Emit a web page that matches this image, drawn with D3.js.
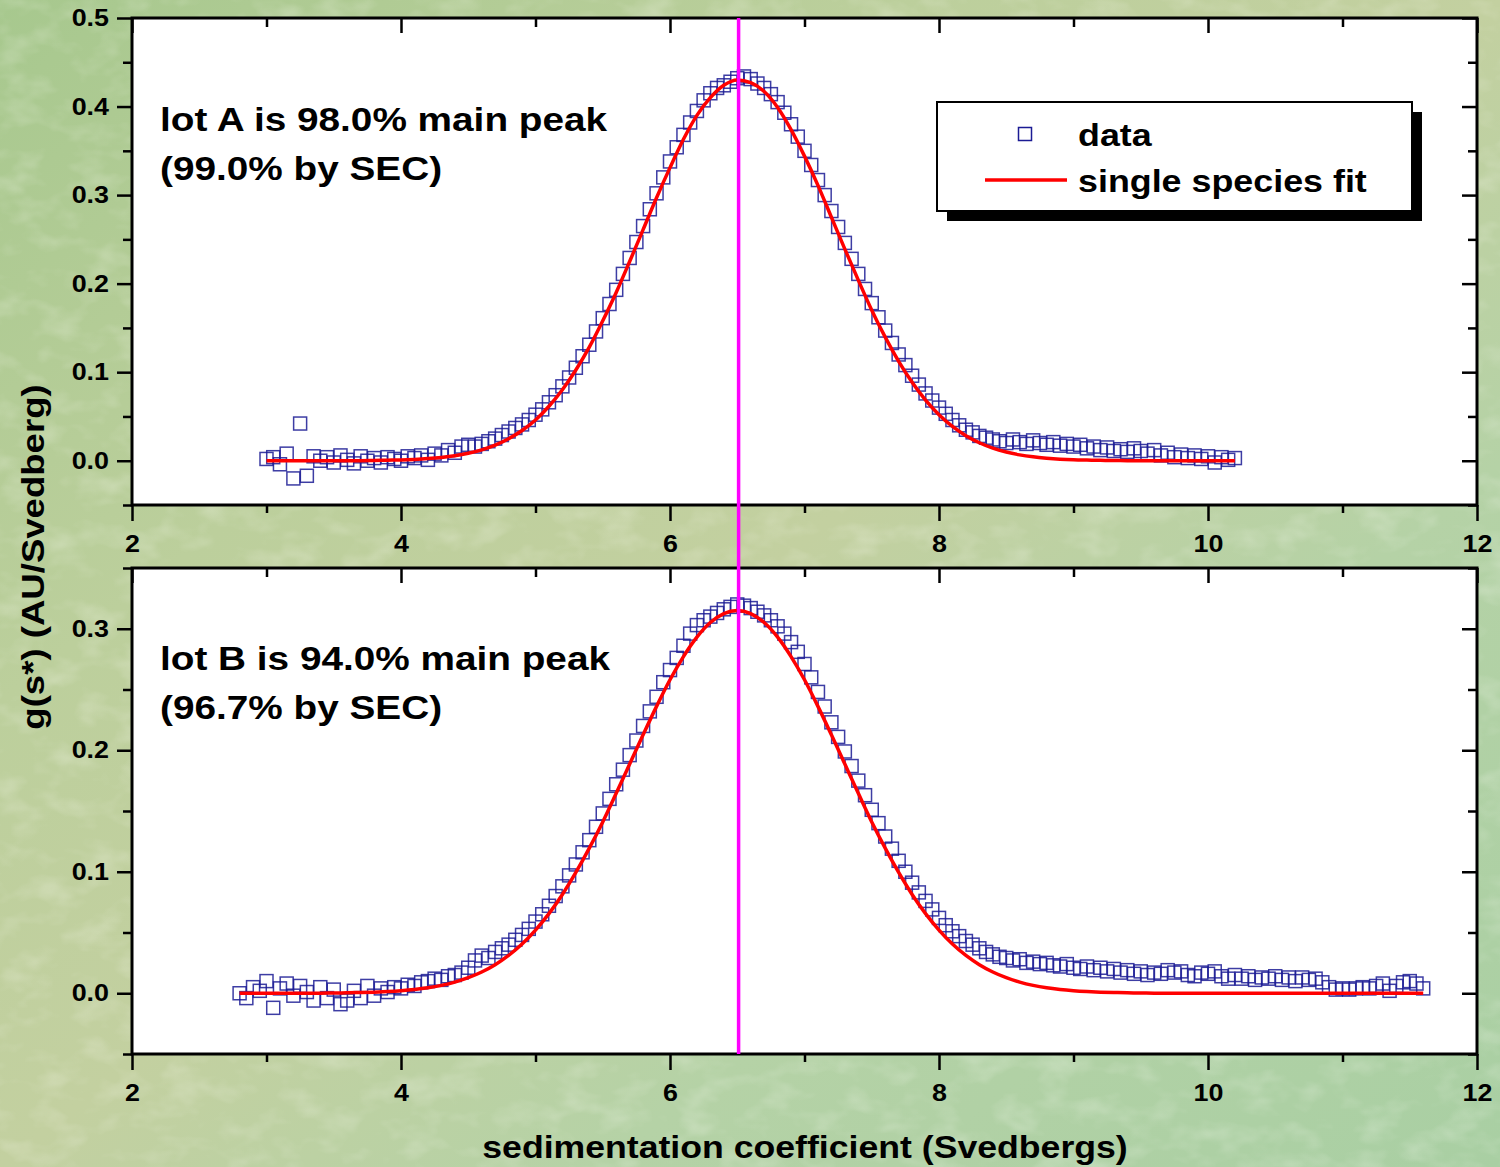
<!DOCTYPE html>
<html>
<head>
<meta charset="utf-8">
<script src="https://cdn.jsdelivr.net/npm/d3@7"></script>
<style>
  html, body { margin: 0; padding: 0; background: #b8cf9f; }
  svg { display: block; }
  text { font-family: "Liberation Sans", Arial, sans-serif; font-weight: bold; fill: #000; }
</style>
</head>
<body>
<svg id="chart" width="1500" height="1167"></svg>
<script>
// ---------------- DATA ----------------
// Lot A (top panel) measured g(s*) points, s from 3.00 to 10.20 in steps of 0.05
const lotAStart = 3.0, lotAStep = 0.05;
const lotAData = [
  0.002, 0.004, -0.004, 0.008, -0.020, 0.042, -0.017, 0.005, 0.000, 0.004,
  -0.002, 0.006, 0.001, -0.003, 0.005, 0.000, 0.003, -0.002, 0.004, 0.002,
  0.000, 0.005, 0.003, 0.006, 0.001, 0.008, 0.006, 0.012, 0.009, 0.016,
  0.018, 0.016, 0.019, 0.022, 0.025, 0.029, 0.033, 0.037, 0.041, 0.046,
  0.052, 0.058, 0.066, 0.074, 0.084, 0.094, 0.105, 0.118, 0.131, 0.146,
  0.161, 0.177, 0.193, 0.211, 0.229, 0.247, 0.265, 0.284, 0.302, 0.320,
  0.338, 0.354, 0.368, 0.382, 0.395, 0.407, 0.415, 0.421, 0.424, 0.428,
  0.432, 0.434, 0.431, 0.426, 0.421, 0.414, 0.405, 0.393, 0.380, 0.366,
  0.350, 0.334, 0.317, 0.300, 0.282, 0.264, 0.246, 0.228, 0.211, 0.194,
  0.178, 0.162, 0.147, 0.133, 0.120, 0.108, 0.096, 0.086, 0.076, 0.068,
  0.060, 0.053, 0.046, 0.040, 0.035, 0.032, 0.028, 0.026, 0.024, 0.022,
  0.020, 0.024, 0.021, 0.019, 0.023, 0.020, 0.018, 0.021, 0.017, 0.019,
  0.016, 0.018, 0.014, 0.016, 0.012, 0.015, 0.011, 0.013, 0.010, 0.014,
  0.011, 0.008, 0.012, 0.006, 0.009, 0.004, 0.007, 0.003, 0.006, 0.002,
  0.005, -0.002, 0.004, 0.001, 0.003
];
// Lot A single species fit, s from 3.0 to 10.2 in steps of 0.1
const lotAFitStart = 3.0, lotAFitStep = 0.1;
const lotAFit = [
  0, 0, 0, 0, 0, 0.0001, 0.0001, 0.0001, 0.0003, 0.0006,
  0.0009, 0.0015, 0.0024, 0.0037, 0.0056, 0.0084, 0.0123, 0.0176, 0.0248, 0.0342,
  0.046, 0.0615, 0.0801, 0.1024, 0.1282, 0.158, 0.190, 0.225, 0.261, 0.297,
  0.331, 0.363, 0.390, 0.410, 0.424, 0.430, 0.427, 0.417, 0.399, 0.374,
  0.344, 0.311, 0.275, 0.239, 0.204, 0.170, 0.1396, 0.1123, 0.0886, 0.0685,
  0.052, 0.0387, 0.0283, 0.0203, 0.0142, 0.0098, 0.0066, 0.0044, 0.0029, 0.0018,
  0.0011, 0.0007, 0.0004, 0.0002, 0.0001, 0, 0, 0, 0, 0,
  0, 0, 0
];
// Lot B (bottom panel) measured points, s from 2.80 to 11.60 in steps of 0.05
const lotBStart = 2.8, lotBStep = 0.05;
const lotBData = [
  0.000, -0.004, 0.005, 0.002, 0.010, -0.012, 0.004, 0.008, -0.002, 0.006,
  0.001, -0.006, 0.005, -0.004, 0.003, -0.009, -0.006, 0.002, -0.004, 0.006,
  -0.002, 0.004, 0.001, 0.005, 0.004, 0.007, 0.006, 0.009, 0.010, 0.012,
  0.011, 0.014, 0.015, 0.017, 0.021, 0.027, 0.031, 0.029, 0.034, 0.037,
  0.040, 0.044, 0.048, 0.053, 0.059, 0.065, 0.072, 0.080, 0.088, 0.097,
  0.106, 0.116, 0.126, 0.137, 0.148, 0.160, 0.172, 0.184, 0.196, 0.208,
  0.220, 0.232, 0.244, 0.256, 0.266, 0.276, 0.286, 0.296, 0.303, 0.307,
  0.310, 0.313, 0.316, 0.318, 0.320, 0.319, 0.317, 0.314, 0.311, 0.307,
  0.302, 0.296, 0.289, 0.281, 0.271, 0.260, 0.248, 0.236, 0.223, 0.211,
  0.199, 0.187, 0.175, 0.163, 0.151, 0.140, 0.129, 0.119, 0.109, 0.100,
  0.091, 0.083, 0.076, 0.069, 0.062, 0.056, 0.051, 0.047, 0.043, 0.040,
  0.037, 0.034, 0.032, 0.030, 0.029, 0.027, 0.028, 0.025, 0.026, 0.024,
  0.025, 0.023, 0.022, 0.024, 0.021, 0.020, 0.022, 0.019, 0.021, 0.018,
  0.020, 0.017, 0.019, 0.016, 0.018, 0.015, 0.017, 0.016, 0.019, 0.017,
  0.018, 0.015, 0.014, 0.017, 0.016, 0.018, 0.014, 0.012, 0.015, 0.012,
  0.014, 0.011, 0.013, 0.012, 0.014, 0.011, 0.013, 0.010, 0.013, 0.011,
  0.012, 0.009, 0.005, 0.003, 0.004, 0.003, 0.004, 0.005, 0.004, 0.006,
  0.008, 0.002, 0.006, 0.009, 0.010, 0.008, 0.004
];
// Lot B single species fit, s from 2.8 to 11.6 in steps of 0.1
const lotBFitStart = 2.8, lotBFitStep = 0.1;
const lotBFit = [
  0, 0, 0, 0, 0, 0, 0.0001, 0.0002, 0.0004, 0.0006,
  0.0009, 0.0014, 0.0021, 0.0031, 0.0045, 0.0065, 0.0092, 0.0128, 0.0175, 0.0235,
  0.0311, 0.0405, 0.052, 0.0655, 0.0813, 0.0994, 0.1194, 0.141, 0.1646, 0.1886,
  0.2127, 0.2361, 0.258, 0.2771, 0.2931, 0.3051, 0.3125, 0.315, 0.3125, 0.3051,
  0.2931, 0.2771, 0.258, 0.2361, 0.2127, 0.1886, 0.1646, 0.141, 0.1194, 0.0994,
  0.0813, 0.0655, 0.052, 0.0405, 0.0311, 0.0235, 0.0175, 0.0128, 0.0092, 0.0065,
  0.0045, 0.0031, 0.0021, 0.0014, 0.0009, 0.0006, 0.0004, 0.0002, 0.0001, 0,
  0, 0, 0, 0, 0, 0, 0, 0, 0, 0,
  0, 0, 0, 0, 0, 0, 0, 0, 0
];
// reference line (main peak position)
const peakS = 6.51;
// axes
const xDomain = [2, 12];
const xMajorTicks = [2, 4, 6, 8, 10, 12];
const xMinorTicks = [3, 5, 7, 9, 11];
const yDomainA = [-0.05, 0.5];
const yMajorTicksA = [0.0, 0.1, 0.2, 0.3, 0.4, 0.5];
const yMinorTicksA = [-0.05, 0.05, 0.15, 0.25, 0.35, 0.45];
const yDomainB = [-0.05, 0.35];
const yMajorTicksB = [0.0, 0.1, 0.2, 0.3];
const yMinorTicksB = [-0.05, 0.05, 0.15, 0.25, 0.35];
// texts
const notesA = ["lot A is 98.0% main peak", "(99.0% by SEC)"];
const notesB = ["lot B is 94.0% main peak", "(96.7% by SEC)"];
const xTitle = "sedimentation coefficient (Svedbergs)";
const yTitle = "g(s*) (AU/Svedberg)";
const legendLabels = ["data", "single species fit"];

// ---------------- DRAW ----------------
const svg = d3.select("#chart");
const W = 1500, H = 1167;
const defs = svg.append("defs");

// glyphs in the reference are drawn wider than plain Arial Bold: stretch horizontally
function addText(parent, tx, ty, str, size, sx, anchor, rotate) {
  return parent.append("text")
    .attr("transform", `translate(${tx},${ty})` + (rotate ? ` rotate(${rotate})` : "") + ` scale(${sx},1)`)
    .attr("text-anchor", anchor || "start")
    .attr("font-size", size).text(str);
}

const grad = defs.append("linearGradient").attr("id", "bg")
  .attr("x1", "0").attr("y1", "0").attr("x2", "1").attr("y2", "1");
[["0%", "#a7c88e"], ["30%", "#bccf9c"], ["50%", "#c3d0a0"], ["70%", "#b5d2a6"], ["100%", "#a9cfa3"]]
  .forEach(([o, c]) => grad.append("stop").attr("offset", o).attr("stop-color", c));

const filt = defs.append("filter").attr("id", "tex").attr("x", 0).attr("y", 0).attr("width", "100%").attr("height", "100%");
filt.append("feTurbulence").attr("type", "fractalNoise").attr("baseFrequency", "0.025 0.04")
  .attr("numOctaves", 3).attr("seed", 7).attr("result", "n");
filt.append("feColorMatrix").attr("type", "matrix")
  .attr("values", "0 0 0 0 1  0 0 0 0 1  0 0 0 0 0.95  1.6 0 0 0 -0.75");

svg.append("rect").attr("width", W).attr("height", H).attr("fill", "url(#bg)");
svg.append("rect").attr("width", W).attr("height", H).attr("filter", "url(#tex)").attr("opacity", 0.35);

const plotL = 132, plotR = 1477;
const x = d3.scaleLinear().domain(xDomain).range([plotL, plotR]);

const panels = [
  { top: 18, bottom: 505, yDomain: yDomainA, yMajor: yMajorTicksA, yMinor: yMinorTicksA,
    data: lotAData, dStart: lotAStart, dStep: lotAStep,
    fit: lotAFit, fStart: lotAFitStart, fStep: lotAFitStep, notes: notesA, noteY: 131 },
  { top: 568, bottom: 1054, yDomain: yDomainB, yMajor: yMajorTicksB, yMinor: yMinorTicksB,
    data: lotBData, dStart: lotBStart, dStep: lotBStep,
    fit: lotBFit, fStart: lotBFitStart, fStep: lotBFitStep, notes: notesB, noteY: 670 }
];

const fmt = d3.format(".1f");
const markerSize = 13;
const TICK_SX = 1.12;

panels.forEach((p, pi) => {
  const y = d3.scaleLinear().domain(p.yDomain).range([p.bottom, p.top]);
  const g = svg.append("g");
  g.append("rect").attr("x", plotL).attr("y", p.top)
    .attr("width", plotR - plotL).attr("height", p.bottom - p.top).attr("fill", "#fff");

  const clipId = "clip" + pi;
  defs.append("clipPath").attr("id", clipId).append("rect")
    .attr("x", plotL).attr("y", p.top).attr("width", plotR - plotL).attr("height", p.bottom - p.top);

  const pts = p.data.map((v, i) => ({ s: p.dStart + i * p.dStep, v }));
  const fitPts = p.fit.map((v, i) => ({ s: p.fStart + i * p.fStep, v }));

  const inner = g.append("g").attr("clip-path", `url(#${clipId})`);
  inner.selectAll("rect.pt").data(pts).enter().append("rect")
    .attr("class", "pt")
    .attr("x", d => x(d.s) - markerSize / 2)
    .attr("y", d => y(d.v) - markerSize / 2)
    .attr("width", markerSize).attr("height", markerSize)
    .attr("fill", "none").attr("stroke", "#1b1b94").attr("stroke-width", 1.5).attr("stroke-opacity", 0.85);

  inner.append("path").datum(fitPts)
    .attr("d", d3.line().x(d => x(d.s)).y(d => y(d.v)).curve(d3.curveMonotoneX))
    .attr("fill", "none").attr("stroke", "#ff0000").attr("stroke-width", 3.5);

  // axes
  const axB = g.append("g").attr("transform", `translate(0,${p.bottom})`)
    .call(d3.axisBottom(x).tickValues(xMajorTicks).tickSize(16).tickPadding(14).tickFormat(d3.format("d")));
  g.append("g").attr("transform", `translate(0,${p.bottom})`)
    .call(d3.axisBottom(x).tickValues(xMinorTicks).tickSize(8).tickFormat(""));
  g.append("g").attr("transform", `translate(0,${p.top})`)
    .call(d3.axisTop(x).tickValues(xMajorTicks).tickSize(-15).tickFormat(""));
  g.append("g").attr("transform", `translate(0,${p.top})`)
    .call(d3.axisTop(x).tickValues(xMinorTicks).tickSize(-9).tickFormat(""));
  const axL = g.append("g").attr("transform", `translate(${plotL},0)`)
    .call(d3.axisLeft(y).tickValues(p.yMajor).tickSize(15).tickPadding(8).tickFormat(fmt));
  g.append("g").attr("transform", `translate(${plotL},0)`)
    .call(d3.axisLeft(y).tickValues(p.yMinor).tickSize(9).tickFormat(""));
  g.append("g").attr("transform", `translate(${plotR},0)`)
    .call(d3.axisRight(y).tickValues(p.yMajor).tickSize(-15).tickFormat(""));
  g.append("g").attr("transform", `translate(${plotR},0)`)
    .call(d3.axisRight(y).tickValues(p.yMinor).tickSize(-9).tickFormat(""));

  g.selectAll(".domain").remove();
  g.selectAll(".tick line").attr("stroke", "#000").attr("stroke-width", 2.5);
  g.selectAll(".tick text").attr("font-size", 24).attr("font-weight", "bold")
    .attr("font-family", '"Liberation Sans", Arial, sans-serif').attr("fill", "#000");
  // stretch tick labels horizontally around their anchor
  axB.selectAll(".tick text").attr("transform", `scale(${TICK_SX},1)`);
  axL.selectAll(".tick text").each(function () {
    const t = d3.select(this);
    const x0 = +t.attr("x");
    t.attr("x", x0 / TICK_SX).attr("transform", `scale(${TICK_SX},1)`);
  });

  g.append("rect").attr("x", plotL).attr("y", p.top)
    .attr("width", plotR - plotL).attr("height", p.bottom - p.top)
    .attr("fill", "none").attr("stroke", "#000").attr("stroke-width", 3);

  // annotation
  p.notes.forEach((t, i) => addText(g, 160, p.noteY + i * 49, t, 34, 1.14));
});

// magenta reference line spanning both panels
svg.append("line")
  .attr("x1", x(peakS)).attr("x2", x(peakS))
  .attr("y1", panels[0].top).attr("y2", panels[1].bottom)
  .attr("stroke", "#ff00ff").attr("stroke-width", 3.5);

// legend
const lg = svg.append("g");
lg.append("rect").attr("x", 947).attr("y", 112).attr("width", 475).attr("height", 109).attr("fill", "#000");
lg.append("rect").attr("x", 937).attr("y", 102).attr("width", 475).attr("height", 109)
  .attr("fill", "#fff").attr("stroke", "#000").attr("stroke-width", 2);
lg.append("rect").attr("x", 1025 - 6.5).attr("y", 134 - 6.5).attr("width", 13).attr("height", 13)
  .attr("fill", "none").attr("stroke", "#1b1b94").attr("stroke-width", 1.5);
lg.append("line").attr("x1", 985).attr("x2", 1067).attr("y1", 180).attr("y2", 180)
  .attr("stroke", "#ff0000").attr("stroke-width", 3.5);
addText(lg, 1078, 146, legendLabels[0], 32, 1.12);
addText(lg, 1078, 192, legendLabels[1], 32, 1.12);

// axis titles
addText(svg, 805, 1158, xTitle, 31, 1.15, "middle");
addText(svg, 44, 557, yTitle, 31, 1.18, "middle", -90);
</script>
</body>
</html>
